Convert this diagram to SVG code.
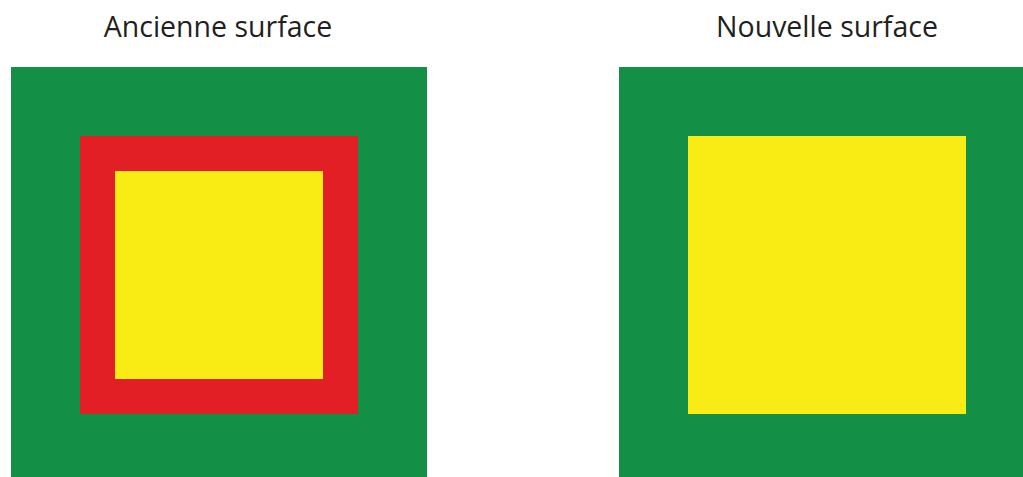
<svg xmlns="http://www.w3.org/2000/svg" width="1023" height="477" viewBox="0 0 1023 477">
<style>
.t{font-family:"Open Sans","Noto Sans",sans-serif;font-size:28.5px;fill:#231f20;text-anchor:middle}
.g{fill:#138f46}.r{fill:#e31f26}.y{fill:#f9eb14}
</style>
<rect width="1023" height="477" fill="#fff"/>
<g id="ancienne">
<text class="t" x="218" y="37">Ancienne surface</text>
<rect class="g" x="11" y="67" width="416" height="410"/>
<rect class="r" x="80" y="136" width="278" height="278"/>
<rect class="y" x="115" y="171" width="208" height="208"/>
</g>
<g id="nouvelle">
<text class="t" x="827" y="37">Nouvelle surface</text>
<rect class="g" x="619" y="67" width="404" height="410"/>
<rect class="y" x="688" y="136" width="278" height="278"/>
</g>
<g id="connectors"/>
</svg>
